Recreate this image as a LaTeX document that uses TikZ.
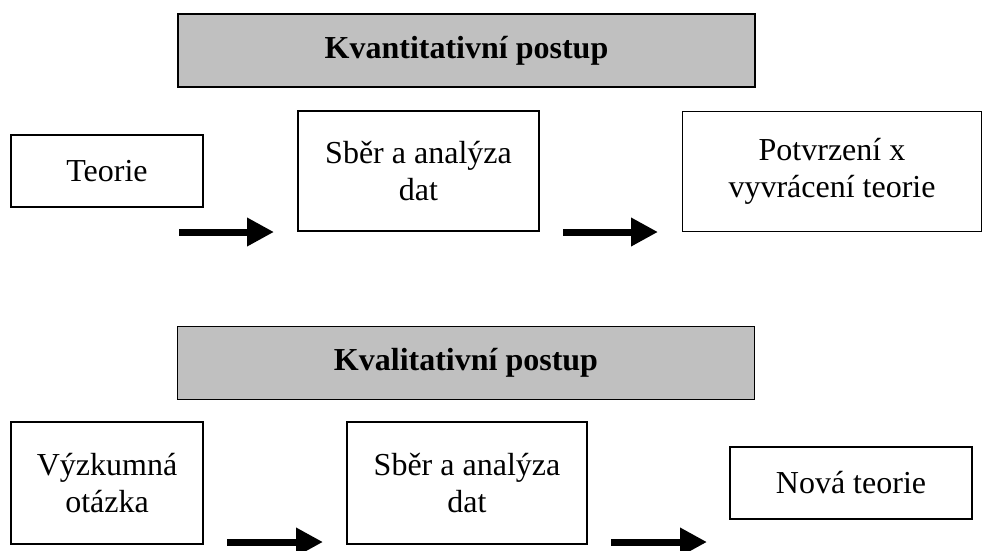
\documentclass[tikz,border=0pt]{standalone}
\usepackage{fontspec}
\setmainfont{Liberation Serif}
\usetikzlibrary{arrows.meta}
\definecolor{hdrgray}{HTML}{C0C0C0}
\tikzset{
  hdr/.style={draw=black, line width=1.6pt, fill=hdrgray, inner sep=0pt,
    minimum width=577pt, minimum height=73pt, font=\fontsize{32}{37}\selectfont\bfseries},
  stepbox/.style={draw=black, line width=1.3pt, fill=white, inner sep=0pt, align=center,
    font=\fontsize{32}{37}\selectfont},
  flowarrow/.style={line width=7pt, -{Triangle[length=27pt, width=27pt]}}
}
\begin{document}
\begin{tikzpicture}[x=1pt, y=-1pt]
\useasboundingbox (0,0) rectangle (983,550);
% headers
\node[hdr] (h1) at (466.5,50.5) {Kvantitativní postup};
\node[hdr] (h2) at (466,363) {Kvalitativní postup};
% top row
\node[stepbox, minimum width=192pt, minimum height=72pt] (teorie) at (107,171) {Teorie};
\node[stepbox, minimum width=241pt, minimum height=120pt] (sber1) at (418.5,171) {Sběr a analýza\\dat};
\node[stepbox, minimum width=299pt, minimum height=120pt] (potvr) at (832,171.5) {Potvrzení x\\vyvrácení teorie};
% bottom row
\node[stepbox, minimum width=192pt, minimum height=122pt] (vyzk) at (107,483) {Výzkumná\\otázka};
\node[stepbox, minimum width=240pt, minimum height=122pt] (sber2) at (467,483) {Sběr a analýza\\dat};
\node[stepbox, minimum width=242pt, minimum height=72pt] (nova) at (851,483) {Nová teorie};
% arrows
\coordinate (a1s) at (179,232); \coordinate (a1e) at (274,232);
\coordinate (a2s) at (563,232); \coordinate (a2e) at (658,232);
\coordinate (a3s) at (227,542); \coordinate (a3e) at (323,542);
\coordinate (a4s) at (611,542); \coordinate (a4e) at (707,542);
\draw[flowarrow] (a1s) -- (a1e);
\draw[flowarrow] (a2s) -- (a2e);
\draw[flowarrow] (a3s) -- (a3e);
\draw[flowarrow] (a4s) -- (a4e);
\end{tikzpicture}
\end{document}
